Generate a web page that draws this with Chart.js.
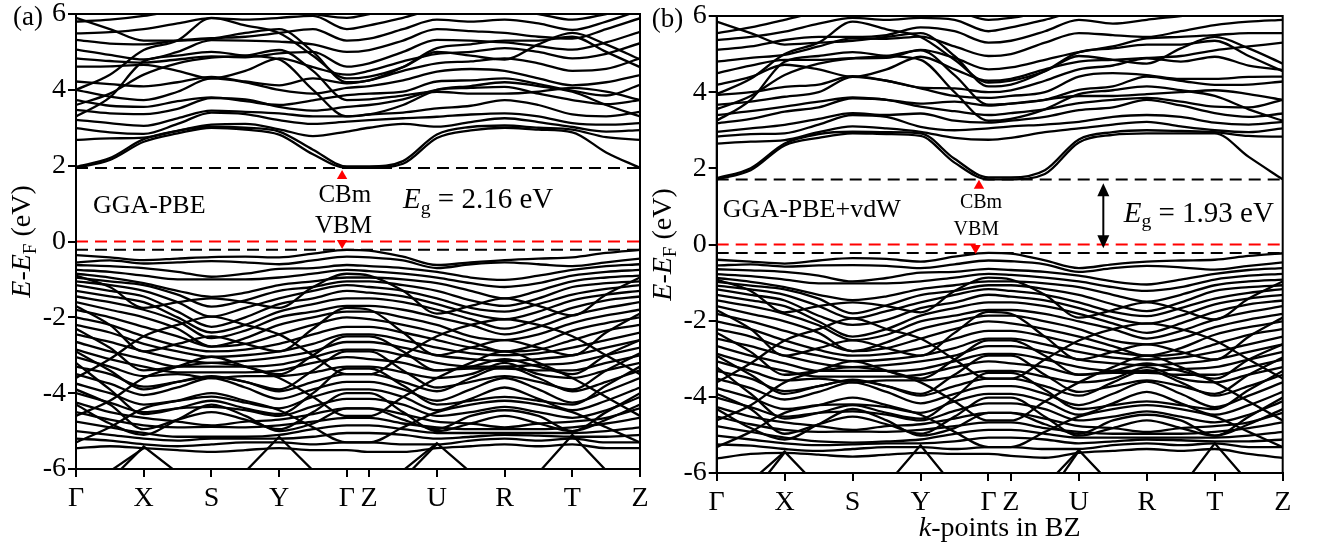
<!DOCTYPE html>
<html>
<head>
<meta charset="utf-8">
<script src="https://cdn.jsdelivr.net/npm/chart.js@4.4.1/dist/chart.umd.min.js"></script>
<style>
  body { margin: 0; background: #fff; width: 1319px; height: 552px; overflow: hidden; position: relative; }
  canvas { position: absolute; top: 0; }
  #chartA { left: 0; }
  #chartB { left: 640px; }
</style>
</head>
<body>
<canvas id="chartA" width="660" height="552"></canvas>
<canvas id="chartB" width="679" height="552"></canvas>
<script>
// k-path : Γ X S Y Γ | Z U R T Z
var kTicks = [0, 1, 2, 3, 4, 4.33, 5.33, 6.33, 7.33, 8.33];
var kLabels = ['Γ', 'X', 'S', 'Y', 'Γ', 'Z', 'U', 'R', 'T', 'Z'];
var kGrid = [0, 0.5, 1, 1.5, 2, 2.5, 3, 3.5, 4, 4.33, 4.83, 5.33, 5.83, 6.33, 6.83, 7.33, 7.83, 8.33];
var energyTicks = [-6, -4, -2, 0, 2, 4, 6];

// ---- (a) GGA-PBE ----
var edgesA = [1.94, -0.22];          // CBm, VBM (eV)
var condA = [
  [1.94, 2.15, 2.63, 2.85, 3.0, 2.95, 2.82, 2.3, 1.94, 1.94, 2.05, 2.73, 2.93, 3.0, 2.95, 2.88, 2.35, 1.94],
  [1.97, 2.2, 2.7, 2.92, 3.03, 3.0, 2.9, 2.42, 1.98, 1.98, 2.12, 2.82, 3.02, 3.06, 3.0, 2.95, 2.75, 2.68],
  [2.68, 2.72, 2.74, 2.92, 3.08, 3.1, 2.96, 2.78, 2.9, 3.0, 3.1, 3.03, 3.15, 3.25, 3.15, 3.02, 2.9, 2.94],
  [2.99, 2.88, 2.84, 3.1, 3.4, 3.36, 3.2, 3.1, 3.16, 3.2, 3.25, 3.29, 3.35, 3.38, 3.3, 3.12, 3.08, 3.12],
  [3.21, 3.12, 3.05, 3.25, 3.45, 3.42, 3.38, 3.3, 3.3, 3.35, 3.4, 3.51, 3.58, 3.73, 3.6, 3.35, 3.3, 3.42],
  [3.47, 3.38, 3.36, 3.5, 3.78, 3.75, 3.55, 3.45, 3.55, 3.6, 3.75, 4.0, 4.05, 4.08, 3.9, 3.73, 3.62, 3.73],
  [3.73, 3.58, 3.55, 3.7, 3.8, 3.7, 3.6, 3.72, 3.86, 3.9, 3.95, 4.22, 4.25, 4.3, 4.15, 3.98, 3.85, 4.13],
  [4.0, 3.82, 3.73, 3.95, 4.3, 4.2, 4.0, 3.9, 4.05, 4.1, 4.25, 4.48, 4.55, 4.5, 4.3, 4.12, 4.2, 4.39],
  [4.22, 4.15, 4.09, 4.2, 4.34, 4.22, 4.12, 4.3, 4.17, 4.25, 4.5, 4.7, 4.75, 4.83, 4.7, 4.5, 4.55, 4.83],
  [4.61, 4.62, 4.66, 4.5, 4.3, 4.5, 4.83, 4.6, 4.4, 4.5, 4.75, 4.95, 5.0, 5.1, 5.0, 4.83, 4.95, 5.23],
  [4.83, 4.76, 4.72, 4.8, 4.88, 4.86, 4.96, 5.0, 4.61, 4.7, 5.0, 5.32, 5.3, 5.25, 5.15, 5.06, 5.25, 5.53],
  [5.06, 4.92, 4.8, 5.0, 5.31, 5.3, 5.27, 5.2, 5.0, 5.05, 5.3, 5.6, 5.55, 5.5, 5.4, 5.35, 5.6, 5.89],
  [5.32, 5.22, 5.2, 5.3, 5.36, 5.4, 5.5, 5.6, 5.3, 5.35, 5.6, 5.85, 5.8, 5.85, 5.75, 5.58, 5.8, 6.1],
  [5.49, 5.52, 5.6, 5.75, 5.89, 5.85, 5.9, 5.95, 5.6, 5.7, 5.9, 6.1, 6.1, 6.1, 6.0, 5.85, 6.0, 6.2],
  [5.8, 5.85, 5.95, 6.1, 6.2, 6.2, 6.1, 6.0, 5.9, 6.0, 6.2, 6.3, 6.2, 6.2, 6.2, 6.05, 6.2, 6.3],
  [3.6, 3.9, 4.4, 4.7, 4.85, 4.9, 5.05, 4.5, 3.73, 3.75, 3.85, 3.95, 3.9, 3.9, 3.95, 4.05, 3.95, 3.73],
  [3.3, 3.8, 4.75, 4.9, 5.0, 4.9, 4.8, 4.0, 3.3, 3.35, 3.6, 4.0, 4.1, 4.2, 4.1, 3.95, 3.6, 3.3],
  [5.9, 5.6, 5.3, 5.3, 5.35, 5.5, 5.6, 5.0, 4.2, 4.25, 4.6, 5.1, 5.2, 5.3, 5.3, 5.4, 5.0, 4.6],
  [4.0, 4.4, 5.05, 5.3, 5.9, 5.7, 5.5, 4.9, 4.3, 4.35, 4.6, 5.0, 4.9, 4.8, 5.2, 5.5, 5.2, 4.8]
];
var valA = [
  [-0.36, -0.42, -0.49, -0.45, -0.41, -0.4, -0.42, -0.32, -0.22, -0.24, -0.4, -0.62, -0.55, -0.49, -0.45, -0.42, -0.3, -0.22],
  [-0.55, -0.5, -0.58, -0.55, -0.52, -0.55, -0.6, -0.5, -0.4, -0.42, -0.5, -0.7, -0.6, -0.55, -0.6, -0.65, -0.55, -0.45],
  [-0.62, -0.65, -0.7, -0.8, -0.93, -0.85, -0.72, -0.7, -0.62, -0.65, -0.7, -0.8, -0.95, -1.01, -0.9, -0.75, -0.65, -0.6],
  [-0.75, -0.8, -0.9, -1.0, -1.0, -1.0, -0.95, -0.85, -0.75, -0.78, -0.85, -0.95, -1.1, -1.2, -1.1, -0.9, -0.8, -0.75],
  [-0.85, -0.95, -1.1, -1.3, -1.46, -1.35, -1.15, -1.05, -0.95, -0.95, -1.0, -1.1, -1.3, -1.5, -1.3, -1.05, -0.95, -0.9],
  [-0.95, -1.05, -1.15, -1.4, -1.72, -1.55, -1.3, -1.2, -1.05, -1.05, -1.15, -1.3, -1.55, -1.7, -1.5, -1.2, -1.1, -1.05],
  [-1.05, -1.15, -1.3, -1.6, -1.98, -1.75, -1.5, -1.3, -1.15, -1.2, -1.3, -1.5, -1.75, -1.85, -1.65, -1.4, -1.25, -1.15],
  [-1.15, -1.3, -1.45, -1.85, -2.25, -2.0, -1.65, -1.5, -1.3, -1.35, -1.45, -1.65, -1.9, -2.05, -1.85, -1.55, -1.4, -1.3],
  [-1.3, -1.45, -1.6, -2.0, -2.4, -2.2, -1.85, -1.65, -1.5, -1.5, -1.6, -1.8, -2.05, -2.3, -2.05, -1.75, -1.55, -1.45],
  [-1.45, -1.6, -1.8, -2.1, -2.55, -2.35, -2.0, -1.85, -1.7, -1.7, -1.8, -2.0, -2.2, -2.45, -2.25, -1.95, -1.75, -1.6],
  [-1.6, -1.8, -2.0, -2.3, -2.77, -2.55, -2.2, -2.0, -1.85, -1.85, -2.0, -2.2, -2.5, -2.6, -2.45, -2.15, -1.95, -1.8],
  [-1.8, -2.0, -2.25, -2.5, -2.77, -2.7, -2.45, -2.2, -2.0, -2.05, -2.2, -2.4, -2.65, -2.9, -2.7, -2.35, -2.15, -2.0],
  [-2.0, -2.2, -2.5, -2.75, -2.9, -2.85, -2.7, -2.45, -2.25, -2.25, -2.4, -2.6, -2.8, -2.9, -2.85, -2.6, -2.35, -2.2],
  [-2.2, -2.4, -2.7, -2.9, -3.04, -3.0, -2.9, -2.7, -2.45, -2.45, -2.6, -2.8, -2.95, -3.0, -2.95, -2.8, -2.6, -2.4],
  [-2.45, -2.65, -2.9, -3.1, -3.2, -3.15, -3.05, -2.9, -2.65, -2.65, -2.8, -3.0, -3.1, -3.15, -3.1, -3.0, -2.8, -2.6],
  [-2.65, -2.9, -3.1, -3.3, -3.3, -3.3, -3.25, -3.05, -2.85, -2.85, -3.0, -3.2, -3.3, -3.3, -3.25, -3.2, -3.0, -2.8],
  [-2.85, -3.1, -3.3, -3.45, -3.45, -3.45, -3.4, -3.2, -3.05, -3.1, -3.2, -3.4, -3.35, -3.35, -3.4, -3.4, -3.2, -3.0],
  [-3.05, -3.3, -3.55, -3.5, -3.6, -3.55, -3.55, -3.45, -3.3, -3.3, -3.45, -3.6, -3.5, -3.2, -3.5, -3.6, -3.4, -3.2],
  [-3.3, -3.5, -3.83, -3.7, -3.57, -3.7, -3.95, -3.7, -3.5, -3.5, -3.7, -3.95, -3.6, -3.3, -3.6, -3.95, -3.7, -3.4],
  [-3.5, -3.75, -4.05, -3.85, -3.6, -3.85, -4.15, -3.9, -3.7, -3.7, -3.9, -4.2, -3.9, -3.6, -3.9, -4.25, -3.95, -3.6],
  [-3.75, -4.0, -4.3, -4.2, -4.09, -4.25, -4.4, -4.1, -3.9, -3.9, -4.1, -4.45, -4.15, -3.85, -4.15, -4.45, -4.2, -3.85],
  [-4.0, -4.25, -4.5, -4.4, -4.36, -4.45, -4.6, -4.35, -4.15, -4.15, -4.3, -4.6, -4.5, -4.36, -4.5, -4.65, -4.45, -4.1],
  [-4.25, -4.5, -4.65, -4.75, -4.85, -4.75, -4.7, -4.55, -4.4, -4.4, -4.55, -4.75, -4.8, -4.9, -4.8, -4.75, -4.65, -4.4],
  [-4.5, -4.7, -4.85, -4.9, -4.89, -4.9, -4.85, -4.75, -4.65, -4.65, -4.8, -4.9, -4.95, -4.95, -4.95, -4.9, -4.8, -4.65],
  [-4.75, -4.9, -5.05, -5.15, -5.15, -5.15, -5.1, -4.95, -4.85, -4.85, -4.95, -5.05, -5.05, -5.05, -5.05, -5.05, -5.0, -4.9],
  [-5.0, -5.1, -5.2, -5.25, -5.2, -5.2, -5.2, -5.15, -5.05, -5.05, -5.1, -5.2, -5.15, -5.1, -5.12, -5.15, -5.15, -5.1],
  [-5.2, -5.25, -5.35, -5.4, -5.35, -5.3, -5.3, -5.35, -5.3, -5.3, -5.35, -5.35, -5.25, -5.2, -5.25, -5.2, -5.3, -5.3],
  [-5.45, -5.4, -5.45, -5.5, -5.55, -5.5, -5.45, -5.5, -5.5, -5.55, -5.55, -5.45, -5.4, -5.35, -5.4, -5.35, -5.45, -5.45],
  [-2.3, -2.8, -3.4, -3.3, -3.2, -3.3, -3.5, -3.0, -2.5, -2.5, -2.9, -3.4, -3.3, -3.1, -3.3, -3.5, -3.0, -2.6],
  [-3.2, -3.9, -4.55, -4.4, -4.2, -4.4, -4.55, -4.0, -3.35, -3.35, -3.8, -4.3, -4.2, -4.1, -4.2, -4.3, -3.8, -3.3],
  [-4.3, -4.8, -5.1, -4.7, -4.3, -4.6, -5.0, -4.8, -4.4, -4.4, -4.7, -4.95, -4.6, -4.45, -4.6, -5.0, -4.7, -4.3],
  [-5.3, -4.9, -4.4, -4.2, -4.0, -4.2, -4.45, -4.9, -5.3, -5.3, -4.9, -4.5, -4.3, -4.2, -4.3, -4.5, -4.9, -5.3],
  [-0.9, -1.2, -1.75, -1.6, -1.5, -1.6, -1.75, -1.2, -0.85, -0.9, -1.3, -1.9, -1.7, -1.5, -1.7, -1.95, -1.4, -0.95],
  [-1.7, -2.2, -2.9, -2.7, -2.5, -2.7, -2.9, -2.3, -1.75, -1.8, -2.4, -3.0, -2.8, -2.6, -2.8, -3.0, -2.4, -1.9],
  [-2.9, -3.4, -3.9, -3.7, -3.55, -3.7, -3.9, -3.4, -2.9, -2.9, -3.4, -3.85, -3.7, -3.55, -3.7, -3.9, -3.4, -2.95],
  [-3.9, -4.3, -4.95, -4.7, -4.5, -4.7, -4.95, -4.5, -4.0, -4.0, -4.5, -5.0, -4.8, -4.6, -4.8, -5.0, -4.5, -4.0],
  [-4.6, -4.2, -3.6, -3.3, -3.04, -3.3, -3.6, -4.1, -4.6, -4.6, -4.1, -3.6, -3.2, -2.9, -3.2, -3.6, -4.1, -4.6],
  [-3.6, -3.1, -2.5, -2.2, -1.98, -2.2, -2.45, -3.0, -3.5, -3.5, -3.0, -2.5, -2.2, -2.05, -2.2, -2.5, -3.0, -3.5]
];
var steepA = [
  [null, -6.3, -5.41, -6.1, null, null, null, null, null, null, null, null, null, null, null, null, null, null],
  [null, -6.06, -5.45, null, null, null, null, null, null, null, null, null, null, null, null, null, null, null],
  [null, null, null, null, null, -6.07, -5.15, -6.04, null, null, null, null, null, null, null, null, null, null],
  [null, null, null, null, null, null, null, null, null, null, -6.04, -5.32, -6.09, null, null, null, null, null],
  [null, null, null, null, null, null, null, null, null, null, -6.26, -5.34, null, null, null, null, null, null],
  [null, null, null, null, null, null, null, null, null, null, null, null, null, null, -6.1, -5.1, -6.04, null]
];
var marksA = [[3.93, 1.73], [3.93, -0.04]];   // CBm (up), VBM (down)

// ---- (b) GGA-PBE+vdW ----
var edgesB = [1.71, -0.22];
var condB = [
  [1.71, 1.95, 2.6, 2.8, 2.92, 2.9, 2.85, 2.15, 1.71, 1.71, 1.85, 2.68, 2.88, 2.92, 2.92, 2.92, 2.3, 1.71],
  [1.74, 2.0, 2.65, 2.9, 2.96, 2.95, 2.92, 2.25, 1.76, 1.76, 1.95, 2.76, 2.95, 3.0, 2.98, 2.95, 2.85, 2.83],
  [2.65, 2.7, 2.74, 2.95, 3.1, 3.05, 2.96, 2.8, 2.75, 2.8, 2.95, 3.05, 3.15, 3.22, 3.1, 3.0, 2.95, 3.05],
  [2.83, 2.9, 2.92, 3.15, 3.4, 3.35, 3.09, 3.0, 3.05, 3.1, 3.15, 3.22, 3.35, 3.4, 3.35, 3.2, 3.15, 3.22],
  [2.96, 3.05, 3.14, 3.3, 3.45, 3.4, 3.44, 3.25, 3.2, 3.25, 3.35, 3.53, 3.6, 3.8, 3.65, 3.45, 3.35, 3.44],
  [3.18, 3.3, 3.49, 3.6, 3.84, 3.8, 3.62, 3.5, 3.4, 3.45, 3.55, 3.71, 3.8, 3.85, 3.75, 3.62, 3.6, 3.8],
  [3.4, 3.5, 3.62, 3.75, 3.86, 3.8, 3.7, 3.75, 3.65, 3.7, 3.8, 4.06, 4.15, 4.41, 4.3, 4.19, 4.2, 4.28],
  [3.67, 3.75, 3.88, 4.0, 4.4, 4.3, 4.1, 3.9, 3.85, 3.9, 4.0, 4.41, 4.5, 4.45, 4.35, 4.35, 4.4, 4.41],
  [3.93, 4.0, 4.14, 4.2, 4.42, 4.3, 4.12, 4.1, 4.0, 4.05, 4.3, 4.6, 4.7, 4.89, 4.8, 4.93, 4.7, 4.58],
  [4.19, 4.4, 4.72, 4.6, 4.4, 4.6, 4.93, 4.6, 4.3, 4.35, 4.6, 4.8, 4.85, 4.9, 4.95, 5.1, 5.2, 5.3],
  [4.5, 4.7, 4.85, 4.85, 4.89, 4.9, 5.11, 4.9, 4.6, 4.65, 4.85, 5.05, 5.2, 5.41, 5.45, 5.5, 5.55, 5.55],
  [4.8, 4.9, 4.98, 5.2, 5.41, 5.4, 5.46, 5.2, 4.95, 5.0, 5.3, 5.55, 5.5, 5.45, 5.6, 5.76, 5.85, 5.9],
  [5.11, 5.2, 5.37, 5.45, 5.45, 5.5, 5.7, 5.6, 5.3, 5.35, 5.6, 5.9, 5.8, 5.9, 6.0, 6.05, 6.1, 6.1],
  [5.37, 5.45, 5.59, 5.8, 5.95, 5.9, 5.95, 5.9, 5.6, 5.7, 5.9, 6.1, 6.1, 6.1, 6.2, 6.2, 6.2, 6.2],
  [5.55, 5.7, 5.9, 6.1, 6.2, 6.2, 6.1, 6.1, 5.9, 5.95, 6.1, 6.2, 6.2, 6.2, 6.2, 6.2, 6.2, 6.2],
  [3.55, 3.9, 4.45, 4.75, 4.89, 4.95, 5.1, 4.45, 3.67, 3.7, 3.8, 3.9, 3.9, 3.95, 4.0, 4.05, 3.95, 3.8],
  [3.25, 3.8, 4.8, 4.95, 5.05, 4.95, 4.85, 4.0, 3.25, 3.3, 3.55, 3.95, 4.05, 4.15, 4.05, 3.9, 3.55, 3.25],
  [5.85, 5.55, 5.25, 5.3, 5.35, 5.45, 5.55, 4.95, 4.15, 4.2, 4.55, 5.05, 5.15, 5.25, 5.25, 5.35, 4.95, 4.55],
  [3.95, 4.35, 5.0, 5.3, 5.85, 5.65, 5.45, 4.85, 4.25, 4.3, 4.55, 4.95, 4.85, 4.75, 5.15, 5.45, 5.15, 4.75]
];
var valB = [
  [-0.4, -0.45, -0.5, -0.42, -0.36, -0.38, -0.45, -0.32, -0.22, -0.24, -0.42, -0.62, -0.52, -0.45, -0.42, -0.4, -0.3, -0.23],
  [-0.55, -0.52, -0.58, -0.55, -0.54, -0.56, -0.62, -0.52, -0.42, -0.44, -0.52, -0.72, -0.62, -0.56, -0.6, -0.66, -0.56, -0.47],
  [-0.65, -0.68, -0.72, -0.82, -0.97, -0.88, -0.74, -0.72, -0.64, -0.67, -0.72, -0.82, -0.97, -1.05, -0.92, -0.77, -0.67, -0.62],
  [-0.78, -0.83, -0.92, -1.02, -1.02, -1.02, -0.97, -0.87, -0.77, -0.8, -0.87, -0.97, -1.12, -1.22, -1.12, -0.92, -0.82, -0.77],
  [-0.88, -0.98, -1.12, -1.32, -1.46, -1.36, -1.17, -1.07, -0.97, -0.97, -1.02, -1.12, -1.32, -1.5, -1.32, -1.07, -0.97, -0.92],
  [-0.98, -1.08, -1.18, -1.42, -1.81, -1.6, -1.33, -1.22, -1.07, -1.07, -1.17, -1.32, -1.57, -1.75, -1.52, -1.22, -1.12, -1.07],
  [-1.08, -1.18, -1.32, -1.62, -1.94, -1.75, -1.52, -1.32, -1.17, -1.22, -1.32, -1.52, -1.77, -1.88, -1.67, -1.42, -1.27, -1.17],
  [-1.18, -1.32, -1.47, -1.87, -2.11, -1.98, -1.67, -1.52, -1.32, -1.37, -1.47, -1.67, -1.92, -2.08, -1.87, -1.57, -1.42, -1.32],
  [-1.32, -1.47, -1.62, -2.02, -2.42, -2.22, -1.87, -1.67, -1.52, -1.52, -1.62, -1.82, -2.07, -2.32, -2.07, -1.77, -1.57, -1.47],
  [-1.47, -1.62, -1.82, -2.12, -2.51, -2.37, -2.02, -1.87, -1.72, -1.72, -1.82, -2.02, -2.22, -2.47, -2.27, -1.97, -1.77, -1.62],
  [-1.62, -1.82, -2.02, -2.32, -2.8, -2.57, -2.22, -2.02, -1.87, -1.87, -2.02, -2.22, -2.52, -2.62, -2.47, -2.17, -1.97, -1.82],
  [-1.82, -2.02, -2.27, -2.52, -2.8, -2.72, -2.47, -2.22, -2.02, -2.07, -2.22, -2.42, -2.67, -2.92, -2.72, -2.37, -2.17, -2.02],
  [-2.02, -2.22, -2.52, -2.77, -2.92, -2.87, -2.72, -2.47, -2.27, -2.27, -2.42, -2.62, -2.82, -2.92, -2.87, -2.62, -2.37, -2.22],
  [-2.22, -2.42, -2.72, -2.92, -3.06, -3.02, -2.92, -2.72, -2.47, -2.47, -2.62, -2.82, -2.97, -3.02, -2.97, -2.82, -2.62, -2.42],
  [-2.47, -2.67, -2.92, -3.12, -3.22, -3.17, -3.07, -2.92, -2.67, -2.67, -2.82, -3.02, -3.12, -3.17, -3.12, -3.02, -2.82, -2.62],
  [-2.67, -2.92, -3.12, -3.32, -3.32, -3.32, -3.27, -3.07, -2.87, -2.87, -3.02, -3.22, -3.32, -3.32, -3.27, -3.22, -3.02, -2.82],
  [-2.87, -3.12, -3.32, -3.47, -3.47, -3.47, -3.42, -3.22, -3.07, -3.12, -3.22, -3.42, -3.37, -3.37, -3.42, -3.42, -3.22, -3.02],
  [-3.07, -3.32, -3.57, -3.52, -3.62, -3.57, -3.57, -3.47, -3.32, -3.32, -3.47, -3.62, -3.52, -3.22, -3.52, -3.62, -3.42, -3.22],
  [-3.32, -3.52, -3.85, -3.72, -3.55, -3.72, -3.97, -3.72, -3.52, -3.52, -3.72, -3.97, -3.62, -3.3, -3.62, -3.97, -3.72, -3.42],
  [-3.52, -3.77, -4.07, -3.87, -3.62, -3.87, -4.17, -3.92, -3.72, -3.72, -3.92, -4.22, -3.92, -3.6, -3.92, -4.27, -3.97, -3.62],
  [-3.77, -4.02, -4.32, -4.22, -4.2, -4.27, -4.42, -4.12, -3.92, -3.92, -4.12, -4.47, -4.17, -3.87, -4.17, -4.47, -4.22, -3.87],
  [-4.02, -4.27, -4.52, -4.42, -4.38, -4.47, -4.62, -4.37, -4.17, -4.17, -4.32, -4.62, -4.52, -4.38, -4.52, -4.67, -4.47, -4.12],
  [-4.27, -4.52, -4.67, -4.77, -4.87, -4.77, -4.72, -4.57, -4.42, -4.42, -4.57, -4.77, -4.82, -4.92, -4.82, -4.77, -4.67, -4.42],
  [-4.52, -4.72, -4.87, -4.92, -4.91, -4.92, -4.87, -4.77, -4.67, -4.67, -4.82, -4.92, -4.97, -4.97, -4.97, -4.92, -4.82, -4.67],
  [-4.77, -4.92, -5.07, -5.17, -5.2, -5.17, -5.12, -4.97, -4.87, -4.87, -4.97, -5.07, -5.07, -5.07, -5.07, -5.07, -5.02, -4.92],
  [-5.02, -5.12, -5.22, -5.27, -5.25, -5.22, -5.22, -5.17, -5.07, -5.07, -5.12, -5.22, -5.17, -5.12, -5.14, -5.17, -5.17, -5.12],
  [-5.25, -5.28, -5.37, -5.42, -5.37, -5.32, -5.32, -5.37, -5.32, -5.32, -5.37, -5.37, -5.27, -5.22, -5.27, -5.22, -5.32, -5.32],
  [-5.62, -5.5, -5.47, -5.52, -5.57, -5.52, -5.47, -5.5, -5.5, -5.55, -5.6, -5.47, -5.42, -5.37, -5.42, -5.37, -5.5, -5.6],
  [-2.32, -2.82, -3.42, -3.32, -3.22, -3.32, -3.52, -3.02, -2.52, -2.52, -2.92, -3.42, -3.32, -3.12, -3.32, -3.52, -3.02, -2.62],
  [-3.22, -3.92, -4.57, -4.42, -4.22, -4.42, -4.57, -4.02, -3.37, -3.37, -3.82, -4.32, -4.22, -4.12, -4.22, -4.32, -3.82, -3.32],
  [-4.32, -4.82, -5.12, -4.72, -4.32, -4.62, -5.02, -4.82, -4.42, -4.42, -4.72, -4.97, -4.62, -4.47, -4.62, -5.02, -4.72, -4.32],
  [-5.32, -4.92, -4.42, -4.22, -4.02, -4.22, -4.47, -4.92, -5.32, -5.32, -4.92, -4.52, -4.32, -4.22, -4.32, -4.52, -4.92, -5.32],
  [-0.92, -1.22, -1.78, -1.62, -1.52, -1.62, -1.78, -1.22, -0.87, -0.92, -1.32, -1.92, -1.72, -1.52, -1.72, -1.97, -1.42, -0.97],
  [-1.72, -2.22, -2.92, -2.72, -2.52, -2.72, -2.92, -2.32, -1.77, -1.82, -2.42, -3.02, -2.82, -2.62, -2.82, -3.02, -2.42, -1.92],
  [-2.92, -3.42, -3.92, -3.72, -3.57, -3.72, -3.92, -3.42, -2.92, -2.92, -3.42, -3.87, -3.72, -3.57, -3.72, -3.92, -3.42, -2.97],
  [-3.92, -4.32, -4.97, -4.72, -4.52, -4.72, -4.97, -4.52, -4.02, -4.02, -4.52, -5.02, -4.82, -4.62, -4.82, -5.02, -4.52, -4.02],
  [-4.62, -4.22, -3.62, -3.32, -3.06, -3.32, -3.62, -4.12, -4.62, -4.62, -4.12, -3.62, -3.22, -2.92, -3.22, -3.62, -4.12, -4.62],
  [-3.62, -3.12, -2.52, -2.22, -1.94, -2.22, -2.47, -3.02, -3.52, -3.52, -3.02, -2.52, -2.22, -2.07, -2.22, -2.52, -3.02, -3.52]
];
var steepB = [
  [null, -6.22, -5.44, -6.37, null, null, null, null, null, null, null, null, null, null, null, null, null, null],
  [null, -6.6, -5.46, null, null, null, null, null, null, null, null, null, null, null, null, null, null, null],
  [null, null, null, null, null, -6.31, -5.27, -6.37, null, null, null, null, null, null, null, null, null, null],
  [null, null, null, null, null, null, null, null, null, null, -6.34, -5.4, -6.34, null, null, null, null, null],
  [null, null, null, null, null, null, null, null, null, null, -6.7, -5.42, null, null, null, null, null, null],
  [null, null, null, null, null, null, null, null, null, null, null, null, null, null, -6.4, -5.22, -6.25, null]
];
var marksB = [[3.86, 1.54], [3.81, -0.09]];
var gapArrowB = [5.69, 1.61, -0.1];   // k, top, bottom

var FONT = '"Liberation Serif", "Times New Roman", serif';

function toPoints(band) {
  return band.map(function (e, i) { return { x: kGrid[i], y: e }; });
}

function drawRich(ctx, parts, x, y, size, align) {
  var widths = [], total = 0;
  parts.forEach(function (p) {
    var s = p.sub ? size * 0.68 : size;
    p.font = (p.it ? 'italic ' : '') + s + 'px ' + FONT;
    ctx.font = p.font;
    var w = ctx.measureText(p.t).width;
    widths.push(w);
    total += w;
  });
  var cx = x;
  if (align === 'center') cx = x - total / 2;
  ctx.textAlign = 'left';
  ctx.textBaseline = 'alphabetic';
  parts.forEach(function (p, i) {
    ctx.font = p.font;
    ctx.fillText(p.t, cx, y + (p.sub ? size * 0.2 : 0));
    cx += widths[i];
  });
}

function makePanel(id, o) {
  var datasets = [];
  // red markers first so that they sit on top
  datasets.push({
    data: [{ x: o.marks[0][0], y: o.marks[0][1] }], showLine: false,
    pointStyle: 'triangle', pointRadius: o.markSize, pointRotation: 0,
    pointBackgroundColor: '#ff0000', pointBorderColor: '#ff0000', pointBorderWidth: 0
  });
  datasets.push({
    data: [{ x: o.marks[1][0], y: o.marks[1][1] }], showLine: false,
    pointStyle: 'triangle', pointRadius: o.markSize, pointRotation: 180,
    pointBackgroundColor: '#ff0000', pointBorderColor: '#ff0000', pointBorderWidth: 0
  });
  o.cond.concat(o.val).forEach(function (b) {
    datasets.push({
      data: toPoints(b), borderColor: '#000', borderWidth: 2.3, pointRadius: 0,
      cubicInterpolationMode: 'monotone', fill: false
    });
  });
  o.steep.forEach(function (b) {
    datasets.push({
      data: toPoints(b), borderColor: '#000', borderWidth: 2.3, pointRadius: 0,
      tension: 0, spanGaps: false, fill: false
    });
  });
  // dashed reference lines
  [[o.edges[0], '#000'], [0, '#ff0000'], [o.edges[1], '#000']].forEach(function (l) {
    datasets.push({
      data: [{ x: 0, y: l[0] }, { x: 8.33, y: l[0] }], borderColor: l[1],
      borderWidth: 2, borderDash: [12, 7], pointRadius: 0, fill: false
    });
  });

  var tickFont = { family: FONT, size: 28 };

  var deco = {
    id: 'deco' + id,
    afterDraw: function (chart) {
      var ctx = chart.ctx, a = chart.chartArea;
      var xs = chart.scales.x, ys = chart.scales.y;
      ctx.save();
      ctx.strokeStyle = '#000';
      ctx.lineWidth = 2;
      ctx.strokeRect(a.left, a.top, a.right - a.left, a.bottom - a.top);
      ctx.fillStyle = '#000';

      // panel letter
      drawRich(ctx, [{ t: o.letter }], a.left - o.letterDx, a.top + 11, 27, 'left');

      // y title
      ctx.save();
      ctx.translate(a.left - 46, (a.top + a.bottom) / 2);
      ctx.rotate(-Math.PI / 2);
      drawRich(ctx, [{ t: 'E', it: true }, { t: '-' }, { t: 'E', it: true }, { t: 'F', sub: true }, { t: ' (eV)' }], 0, 0, 28, 'center');
      ctx.restore();

      if (o.xTitle) {
        drawRich(ctx, [{ t: 'k', it: true }, { t: '-points in BZ' }], (a.left + a.right) / 2, a.bottom + 63, 28, 'center');
      }

      o.notes.forEach(function (n) {
        drawRich(ctx, n.parts, xs.getPixelForValue(n.k), ys.getPixelForValue(n.e), n.size, n.align);
      });

      if (o.arrow) {
        var ax = xs.getPixelForValue(o.arrow[0]);
        var y1 = ys.getPixelForValue(o.arrow[1]);
        var y2 = ys.getPixelForValue(o.arrow[2]);
        ctx.beginPath();
        ctx.moveTo(ax, y1 + 10);
        ctx.lineTo(ax, y2 - 10);
        ctx.stroke();
        ctx.beginPath();
        ctx.moveTo(ax, y1); ctx.lineTo(ax - 6, y1 + 13); ctx.lineTo(ax + 6, y1 + 13); ctx.closePath();
        ctx.fill();
        ctx.beginPath();
        ctx.moveTo(ax, y2); ctx.lineTo(ax - 6, y2 - 13); ctx.lineTo(ax + 6, y2 - 13); ctx.closePath();
        ctx.fill();
      }
      ctx.restore();
    }
  };

  return new Chart(document.getElementById(id), {
    type: 'line',
    data: { datasets: datasets },
    options: {
      responsive: false,
      animation: false,
      devicePixelRatio: 1,
      events: [],
      layout: { padding: { top: o.padTop, right: o.padRight, left: 0, bottom: 0 } },
      plugins: { legend: { display: false }, tooltip: { enabled: false } },
      scales: {
        x: {
          type: 'linear', min: 0, max: 8.33,
          afterBuildTicks: function (s) { s.ticks = kTicks.map(function (v) { return { value: v }; }); },
          afterFit: function (s) { s.height = o.xHeight; s.paddingLeft = 0; s.paddingRight = 0; },
          ticks: {
            autoSkip: false, maxRotation: 0, minRotation: 0, padding: 5,
            color: '#000', font: tickFont,
            callback: function (v, i) { return kLabels[i]; }
          },
          grid: { drawOnChartArea: false, drawTicks: true, tickLength: 8, color: '#000', lineWidth: 2 },
          border: { display: true, color: '#000', width: 2 }
        },
        y: {
          type: 'linear', min: -6, max: 6,
          afterBuildTicks: function (s) { s.ticks = energyTicks.map(function (v) { return { value: v }; }); },
          afterFit: function (s) { s.width = o.yWidth; s.paddingTop = 0; s.paddingBottom = 0; },
          ticks: {
            padding: 2, color: '#000', font: tickFont,
            callback: function (v) { return String(v); }
          },
          grid: { drawOnChartArea: false, drawTicks: true, tickLength: 8, color: '#000', lineWidth: 2 },
          border: { display: true, color: '#000', width: 2 }
        }
      }
    },
    plugins: [deco]
  });
}

makePanel('chartA', {
  cond: condA, val: valA, steep: steepA, edges: edgesA, marks: marksA, markSize: 6,
  padTop: 14, padRight: 20, yWidth: 76, xHeight: 83,
  letter: '(a)', letterDx: 63, xTitle: false, arrow: null,
  notes: [
    { parts: [{ t: 'GGA-PBE' }], k: 0.25, e: 0.75, size: 26, align: 'left' },
    { parts: [{ t: 'CBm' }], k: 3.97, e: 1.05, size: 25, align: 'center' },
    { parts: [{ t: 'VBM' }], k: 3.95, e: 0.22, size: 25, align: 'center' },
    { parts: [{ t: 'E', it: true }, { t: 'g', sub: true }, { t: ' = 2.16 eV' }], k: 4.83, e: 0.88, size: 29, align: 'left' }
  ]
});

makePanel('chartB', {
  cond: condB, val: valB, steep: steepB, edges: edgesB, marks: marksB, markSize: 6,
  padTop: 16, padRight: 36.3, yWidth: 76.7, xHeight: 79,
  letter: '(b)', letterDx: 65, xTitle: true, arrow: gapArrowB,
  notes: [
    { parts: [{ t: 'GGA-PBE+vdW' }], k: 0.09, e: 0.73, size: 26, align: 'left' },
    { parts: [{ t: 'CBm' }], k: 3.89, e: 0.96, size: 20, align: 'center' },
    { parts: [{ t: 'VBM' }], k: 3.82, e: 0.25, size: 20, align: 'center' },
    { parts: [{ t: 'E', it: true }, { t: 'g', sub: true }, { t: ' = 1.93 eV' }], k: 5.99, e: 0.6, size: 29, align: 'left' }
  ]
});
</script>
</body>
</html>
